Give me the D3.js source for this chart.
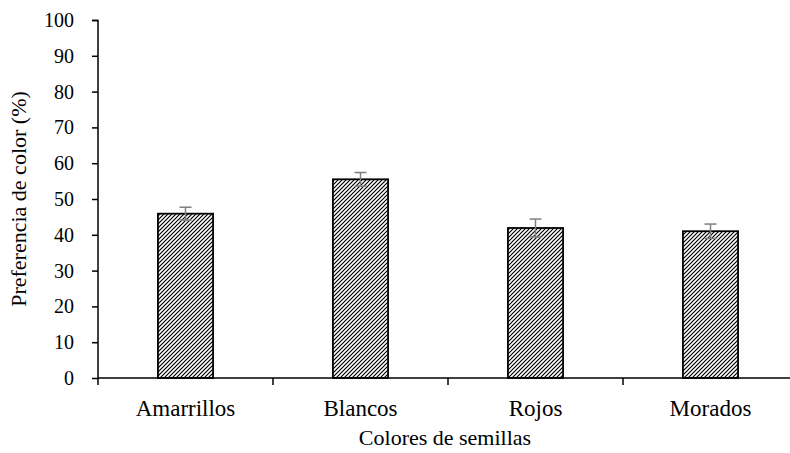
<!DOCTYPE html>
<html>
<head>
<meta charset="utf-8">
<script src="https://cdn.jsdelivr.net/npm/d3@7"></script>
<style>
  body { margin: 0; background: #fff; }
  svg { display: block; }
  svg text { font-family: "Times New Roman", "Liberation Serif", serif !important; fill: #000; }
</style>
</head>
<body>
<div id="chart"></div>
<script>
// Data
const categories = ['Amarrillos', 'Blancos', 'Rojos', 'Morados']
const values = [45.9, 55.5, 41.9, 41.0]
const errors = [1.8, 1.9, 2.5, 2.0]
const yTicks = [0, 10, 20, 30, 40, 50, 60, 70, 80, 90, 100]

const width = 790
const height = 453
const margin = { top: 20, right: -8, bottom: 75, left: 98 }
const chartWidth = width - margin.left - margin.right
const chartHeight = height - margin.top - margin.bottom

const svg = d3.select('#chart').append('svg')
    .attr('width', width)
    .attr('height', height)

// Hatch pattern
const defs = svg.append('defs')
defs.append('pattern')
    .attr('id', 'hatch')
    .attr('patternUnits', 'userSpaceOnUse')
    .attr('width', 4)
    .attr('height', 4)
    .call(p => {
        p.append('rect').attr('width', 4).attr('height', 4).attr('fill', '#fff')
        p.append('path')
            .attr('d', 'M-1,1 l2,-2 M0,4 l4,-4 M3,5 l2,-2')
            .attr('stroke', '#000')
            .attr('stroke-width', 1.2)
    })

const g = svg.append('g')
    .attr('transform', `translate(${margin.left}, ${margin.top})`)

// Scales
const x = d3.scaleBand()
    .domain(categories)
    .range([0, chartWidth])
    .paddingInner(0.685)
    .paddingOuter(0.3425)
const y = d3.scaleLinear()
    .domain([0, 100])
    .range([chartHeight, 0])

// Bars
g.selectAll('rect.bar')
    .data(categories)
    .enter()
    .append('rect')
    .attr('class', 'bar')
    .attr('x', d => x(d))
    .attr('y', (d, i) => y(values[i]))
    .attr('width', x.bandwidth())
    .attr('height', (d, i) => y(0) - y(values[i]))
    .attr('fill', 'url(#hatch)')
    .attr('stroke', '#000')
    .attr('stroke-width', 1.8)

// Error bars
const capHalf = 6
const err = g.selectAll('g.err')
    .data(categories)
    .enter()
    .append('g')
    .attr('class', 'err')
    .attr('stroke', '#7f7f7f')
    .attr('stroke-width', 1.5)
err.append('line')
    .attr('x1', d => x(d) + x.bandwidth() / 2)
    .attr('x2', d => x(d) + x.bandwidth() / 2)
    .attr('y1', (d, i) => y(values[i] - errors[i]))
    .attr('y2', (d, i) => y(values[i] + errors[i]))
err.append('line')
    .attr('x1', d => x(d) + x.bandwidth() / 2 - capHalf)
    .attr('x2', d => x(d) + x.bandwidth() / 2 + capHalf)
    .attr('y1', (d, i) => y(values[i] + errors[i]))
    .attr('y2', (d, i) => y(values[i] + errors[i]))
err.append('line')
    .attr('x1', d => x(d) + x.bandwidth() / 2 - capHalf)
    .attr('x2', d => x(d) + x.bandwidth() / 2 + capHalf)
    .attr('y1', (d, i) => y(values[i] - errors[i]))
    .attr('y2', (d, i) => y(values[i] - errors[i]))

// Y axis
const yAxis = g.append('g')
    .call(d3.axisLeft(y).tickValues(yTicks).tickSize(6).tickPadding(18))
yAxis.attr('font-family', null).attr('font-size', 20)
yAxis.select('.domain').attr('stroke-width', 1.5).attr('d', `M-6,0.5H0V${chartHeight}`)
yAxis.selectAll('.tick line').attr('stroke-width', 1.5)

// X axis
const xAxis = g.append('g')
    .attr('transform', `translate(0, ${chartHeight})`)
    .call(d3.axisBottom(x).tickSize(0).tickPadding(22))
xAxis.attr('font-family', null).attr('font-size', 23)
xAxis.select('.domain').attr('stroke-width', 1.5).attr('d', `M0,0H${chartWidth}`)
// category separators
const step = x.step()
g.append('g')
    .selectAll('line')
    .data(d3.range(categories.length))
    .enter()
    .append('line')
    .attr('x1', i => x(categories[i]) - step * 0.3425)
    .attr('x2', i => x(categories[i]) - step * 0.3425)
    .attr('y1', chartHeight)
    .attr('y2', chartHeight + 7)
    .attr('stroke', '#000')
    .attr('stroke-width', 1.5)

// Titles
svg.append('text')
    .attr('transform', `translate(26, ${margin.top + chartHeight / 2}) rotate(-90)`)
    .attr('text-anchor', 'middle')
    .attr('font-size', 22)
    .text('Preferencia de color (%)')
svg.append('text')
    .attr('x', 445)
    .attr('y', 445)
    .attr('text-anchor', 'middle')
    .attr('font-size', 22)
    .text('Colores de semillas')
</script>
</body>
</html>
